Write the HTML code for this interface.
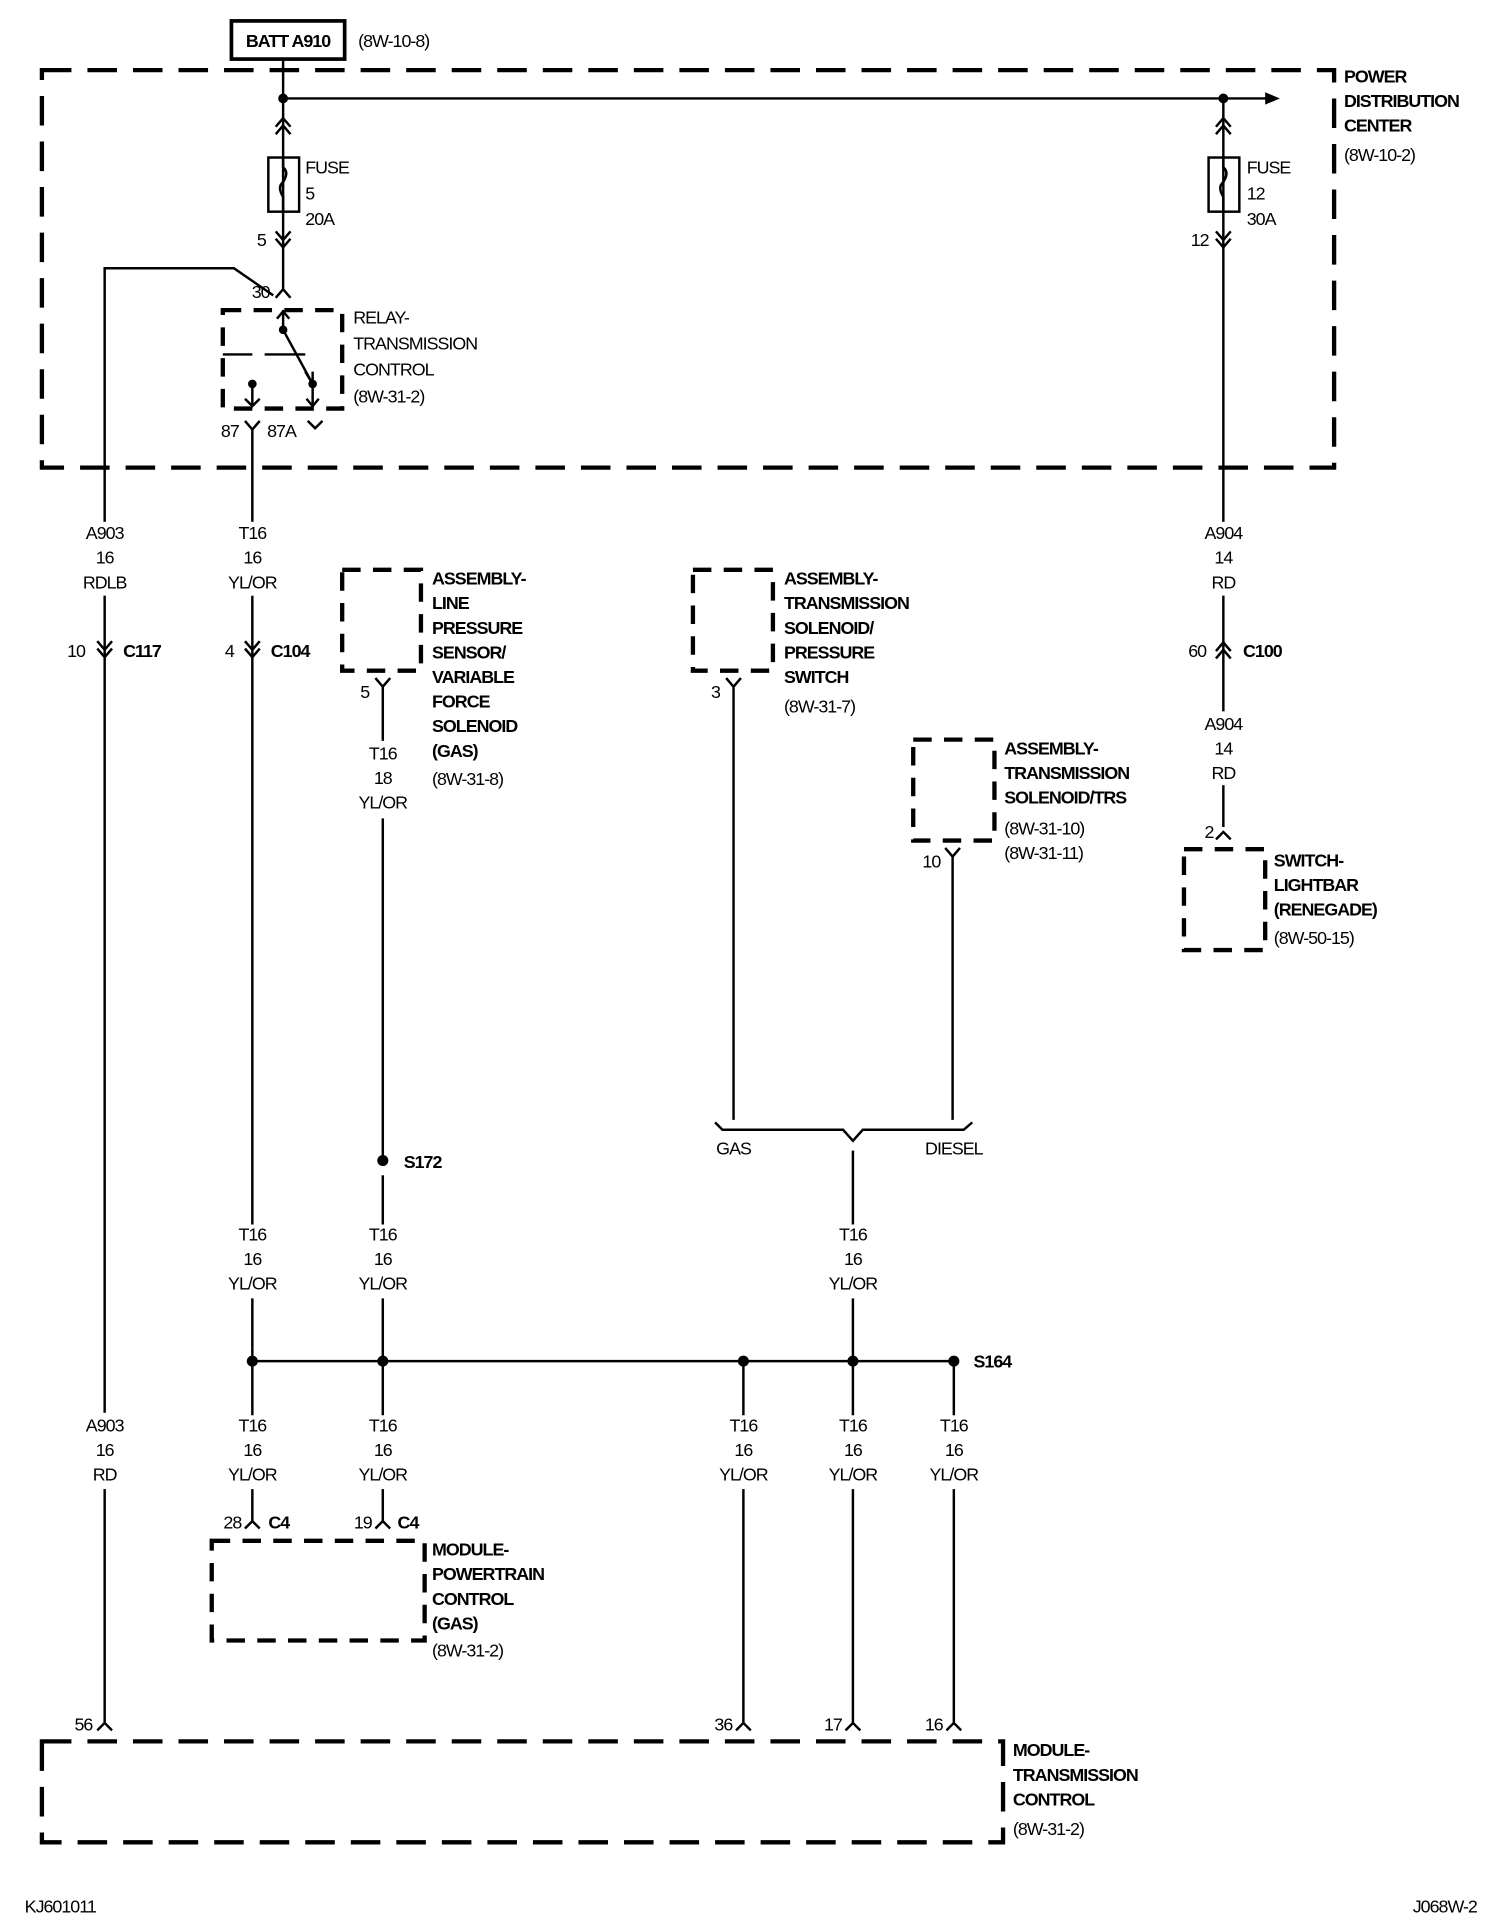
<!DOCTYPE html>
<html><head><meta charset="utf-8"><style>
html,body{margin:0;padding:0;background:#fff;}
svg{display:block;}
text{font-family:"Liberation Sans",Arial,sans-serif;font-size:14.5px;fill:#000;letter-spacing:-0.8px;}
.b{font-weight:bold;}
.m{text-anchor:middle;}
.e{text-anchor:end;}
</style></head><body>
<svg width="1504" height="1926" viewBox="0 0 1222 1565" xmlns="http://www.w3.org/2000/svg">
<g fill="none" stroke="#000" stroke-width="2">
<rect x="188" y="17" width="92" height="31" stroke-width="3"/>
<g stroke-width="3.5" stroke-dasharray="24 13">
<rect x="34" y="57" width="1050" height="323"/>
<rect x="34" y="1415" width="781" height="82"/>
</g>
<g stroke-width="3.5" stroke-dasharray="15 10">
<rect x="181" y="252" width="97" height="80"/>
<rect x="278" y="463" width="64" height="82"/>
<rect x="563" y="463" width="65" height="82"/>
<rect x="742" y="601" width="66" height="82"/>
<rect x="962" y="690" width="66" height="82"/>
<rect x="172" y="1252" width="173" height="81"/>
</g>
<path d="M230 48 V235"/>
<path d="M230 80 H1030"/>
<path d="M994 80 V672"/>
<path d="M224 103 L230 96 L236 103 M224 109 L230 102 L236 109"/>
<path d="M988 103 L994 96 L1000 103 M988 109 L994 102 L1000 109"/>
<rect x="218" y="128" width="25" height="44"/>
<rect x="982" y="128" width="25" height="44"/>
<path d="M230 128 v8 q5 4 0 12 q-5 4 0 12 v12"/>
<path d="M994 128 v8 q5 4 0 12 q-5 4 0 12 v12"/>
<path d="M224 188 L230 195 L236 188 M224 194 L230 201 L236 194"/>
<path d="M988 188 L994 195 L1000 188 M988 194 L994 201 L1000 194"/>
<path d="M224 242 L230 235 L236 242"/>
<path d="M85 1400 V218 H190 L222 240"/>
<path d="M230 252 V268 L254 312 V330"/>
<path d="M225 259 L230 253 L235 259"/>
<path d="M248 302 L254 312 L254 302" />
<path d="M205 312 V330 M199 324 L205 330 L211 324"/>
<path d="M249 324 L254 330 L259 324"/>
<path d="M181 288 H205 M215 288 H248"/>
<path d="M199 342 L205 349 L211 342"/>
<path d="M250 342 L256 348 L262 342"/>
<path d="M205 349 V425 M205 484 V995 M205 1055 V1095"/>
<path d="M79 521 L85 528 L91 521 M79 527 L85 534 L91 527"/>
<path d="M199 521 L205 528 L211 521 M199 527 L205 534 L211 527"/>
<path d="M988 529 L994 522 L1000 529 M988 535 L994 528 L1000 535"/>
<path d="M305 551 L311 558 L317 551 M311 558 V605 M311 665 V943"/>
<path d="M590 551 L596 558 L602 551 M596 558 V910"/>
<path d="M768 689 L774 696 L780 689 M774 696 V910"/>
<path d="M988 682 L994 676 L1000 682"/>
<path d="M581 912 L587 918 H685 L693 927 L701 918 H783 L790 912"/>
<path d="M693 935 V995 M693 1055 V1150"/>
<path d="M205 1106 H775"/>
<path d="M205 1095 V1150 M311 1055 V1150 M604 1106 V1150 M775 1106 V1150"/>
<path d="M311 955 V995"/>
<path d="M205 1210 V1236 M311 1210 V1236"/>
<path d="M199 1242 L205 1236 L211 1242 M305 1242 L311 1236 L317 1242"/>
<path d="M604 1210 V1400 M693 1210 V1400 M775 1210 V1400"/>
<path d="M79 1406 L85 1400 L91 1406 M598 1406 L604 1400 L610 1406 M687 1406 L693 1400 L699 1406 M769 1406 L775 1400 L781 1406"/>
</g>
<g fill="#fff">
<rect x="60" y="424" width="50" height="60"/>
<rect x="180" y="424" width="50" height="60"/>
<rect x="970" y="424" width="50" height="60"/>
<rect x="970" y="578" width="50" height="60"/>
<rect x="285" y="602" width="50" height="62"/>
<rect x="60" y="1148" width="50" height="62"/>
</g>
<polygon points="1028,75 1040,80 1028,85" fill="#000"/>
<g fill="#000">
<circle cx="230" cy="80" r="4"/><circle cx="994" cy="80" r="4"/>
<circle cx="230" cy="268" r="3.5"/><circle cx="254" cy="312" r="3.5"/><circle cx="205" cy="312" r="3.5"/>
<circle cx="311" cy="943" r="4.5"/>
<circle cx="205" cy="1106" r="4.5"/><circle cx="311" cy="1106" r="4.5"/><circle cx="604" cy="1106" r="4.5"/><circle cx="693" cy="1106" r="4.5"/><circle cx="775" cy="1106" r="4.5"/>
</g>
<text x="234" y="38" class="b m">BATT A910</text>
<text x="291" y="38">(8W-10-8)</text>
<text x="1092" y="67" class="b">POWER</text>
<text x="1092" y="87" class="b">DISTRIBUTION</text>
<text x="1092" y="107" class="b">CENTER</text>
<text x="1092" y="131">(8W-10-2)</text>
<text x="248" y="141">FUSE</text><text x="248" y="162">5</text><text x="248" y="183">20A</text>
<text x="1013" y="141">FUSE</text><text x="1013" y="162">12</text><text x="1013" y="183">30A</text>
<text x="216" y="200" class="e">5</text>
<text x="982" y="200" class="e">12</text>
<text x="219" y="242" class="e">30</text>
<text x="287" y="263">RELAY-</text><text x="287" y="284">TRANSMISSION</text><text x="287" y="305">CONTROL</text><text x="287" y="327">(8W-31-2)</text>
<text x="194" y="355" class="e">87</text><text x="217" y="355">87A</text>
<text x="85" y="438" class="m">A903</text><text x="85" y="458" class="m">16</text><text x="85" y="478" class="m">RDLB</text>
<text x="205" y="438" class="m">T16</text><text x="205" y="458" class="m">16</text><text x="205" y="478" class="m">YL/OR</text>
<text x="994" y="438" class="m">A904</text><text x="994" y="458" class="m">14</text><text x="994" y="478" class="m">RD</text>
<text x="994" y="593" class="m">A904</text><text x="994" y="613" class="m">14</text><text x="994" y="633" class="m">RD</text>
<text x="311" y="617" class="m">T16</text><text x="311" y="637" class="m">18</text><text x="311" y="657" class="m">YL/OR</text>
<text x="69" y="534" class="e">10</text><text x="100" y="534" class="b">C117</text>
<text x="190" y="534" class="e">4</text><text x="220" y="534" class="b">C104</text>
<text x="980" y="534" class="e">60</text><text x="1010" y="534" class="b">C100</text>
<text x="351" y="475" class="b">ASSEMBLY-</text><text x="351" y="495" class="b">LINE</text><text x="351" y="515" class="b">PRESSURE</text><text x="351" y="535" class="b">SENSOR/</text><text x="351" y="555" class="b">VARIABLE</text><text x="351" y="575" class="b">FORCE</text><text x="351" y="595" class="b">SOLENOID</text><text x="351" y="615" class="b">(GAS)</text><text x="351" y="638">(8W-31-8)</text>
<text x="300" y="567" class="e">5</text>
<text x="637" y="475" class="b">ASSEMBLY-</text><text x="637" y="495" class="b">TRANSMISSION</text><text x="637" y="515" class="b">SOLENOID/</text><text x="637" y="535" class="b">PRESSURE</text><text x="637" y="555" class="b">SWITCH</text><text x="637" y="579">(8W-31-7)</text>
<text x="585" y="567" class="e">3</text>
<text x="816" y="613" class="b">ASSEMBLY-</text><text x="816" y="633" class="b">TRANSMISSION</text><text x="816" y="653" class="b">SOLENOID/TRS</text><text x="816" y="678">(8W-31-10)</text><text x="816" y="698">(8W-31-11)</text>
<text x="764" y="705" class="e">10</text>
<text x="986" y="681" class="e">2</text>
<text x="1035" y="704" class="b">SWITCH-</text><text x="1035" y="724" class="b">LIGHTBAR</text><text x="1035" y="744" class="b">(RENEGADE)</text><text x="1035" y="767">(8W-50-15)</text>
<text x="328" y="949" class="b">S172</text>
<text x="596" y="938" class="m">GAS</text><text x="775" y="938" class="m">DIESEL</text>
<text x="205" y="1008" class="m">T16</text><text x="205" y="1028" class="m">16</text><text x="205" y="1048" class="m">YL/OR</text>
<text x="311" y="1008" class="m">T16</text><text x="311" y="1028" class="m">16</text><text x="311" y="1048" class="m">YL/OR</text>
<text x="693" y="1008" class="m">T16</text><text x="693" y="1028" class="m">16</text><text x="693" y="1048" class="m">YL/OR</text>
<text x="791" y="1111" class="b">S164</text>
<text x="85" y="1163" class="m">A903</text><text x="85" y="1183" class="m">16</text><text x="85" y="1203" class="m">RD</text>
<text x="205" y="1163" class="m">T16</text><text x="205" y="1183" class="m">16</text><text x="205" y="1203" class="m">YL/OR</text>
<text x="311" y="1163" class="m">T16</text><text x="311" y="1183" class="m">16</text><text x="311" y="1203" class="m">YL/OR</text>
<text x="604" y="1163" class="m">T16</text><text x="604" y="1183" class="m">16</text><text x="604" y="1203" class="m">YL/OR</text>
<text x="693" y="1163" class="m">T16</text><text x="693" y="1183" class="m">16</text><text x="693" y="1203" class="m">YL/OR</text>
<text x="775" y="1163" class="m">T16</text><text x="775" y="1183" class="m">16</text><text x="775" y="1203" class="m">YL/OR</text>
<text x="196" y="1242" class="e">28</text><text x="218" y="1242" class="b">C4</text>
<text x="302" y="1242" class="e">19</text><text x="323" y="1242" class="b">C4</text>
<text x="351" y="1264" class="b">MODULE-</text><text x="351" y="1284" class="b">POWERTRAIN</text><text x="351" y="1304" class="b">CONTROL</text><text x="351" y="1324" class="b">(GAS)</text><text x="351" y="1346">(8W-31-2)</text>
<text x="75" y="1406" class="e">56</text><text x="595" y="1406" class="e">36</text><text x="684" y="1406" class="e">17</text><text x="766" y="1406" class="e">16</text>
<text x="823" y="1427" class="b">MODULE-</text><text x="823" y="1447" class="b">TRANSMISSION</text><text x="823" y="1467" class="b">CONTROL</text><text x="823" y="1491">(8W-31-2)</text>
<text x="20" y="1554">KJ601011</text>
<text x="1200" y="1554" class="e">J068W-2</text>
</svg>
</body></html>
